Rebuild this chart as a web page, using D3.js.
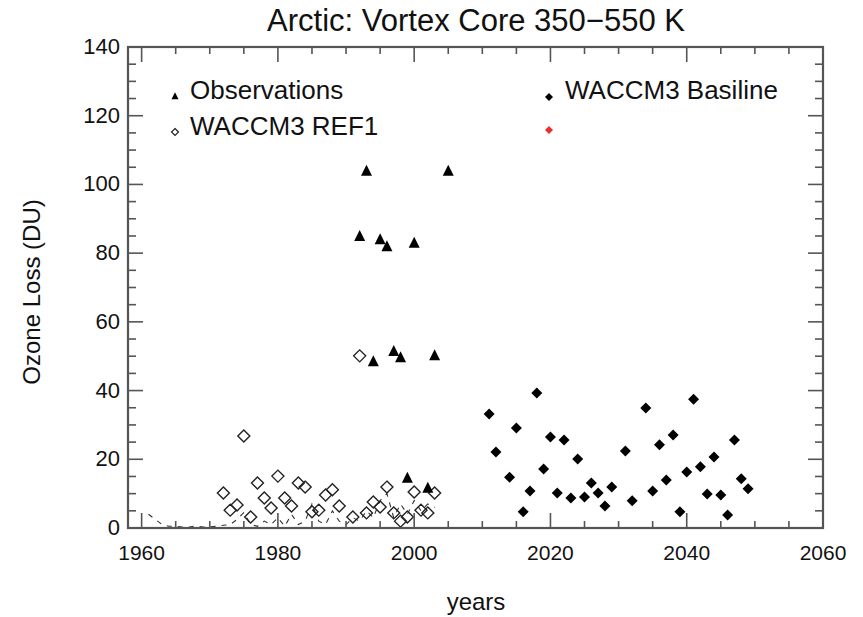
<!DOCTYPE html>
<html>
<head>
<meta charset="utf-8">
<script src="https://cdn.jsdelivr.net/npm/d3@7"></script>
<style>
  body { margin: 0; background: #fff; }
  text { font-family: "Liberation Sans", Arial, sans-serif; fill: #111; }
</style>
</head>
<body>
<div class="svg-container"></div>
<script>
// observations (triangles)
var obsYears = [1992, 1993, 1994, 1995, 1996, 1997, 1998, 1999, 2000, 2002, 2003, 2005];
var obsLoss  = [85, 104, 48.5, 84, 82, 51.5, 49.7, 14.6, 83, 11.7, 50.3, 104];

// WACCM3 REF1 (open diamonds)
var ref1Years = [1972, 1973, 1974, 1975, 1976, 1977, 1978, 1979, 1980, 1981, 1982, 1983, 1984, 1985,
                 1986, 1987, 1988, 1989, 1991, 1992, 1993, 1994, 1995, 1996, 1997, 1998, 1999, 2000,
                 2001, 2002, 2003];
var ref1Loss  = [10.2, 5.2, 6.7, 26.8, 3.2, 13.1, 8.7, 5.8, 15.1, 8.7, 6.4, 13.1, 11.9, 4.7,
                 5.2, 9.6, 11.1, 6.4, 3.2, 50.1, 4.4, 7.6, 6.1, 11.9, 4.4, 2.0, 3.2, 10.5,
                 5.2, 4.4, 10.2];

// WACCM3 basiline (filled diamonds)
var baseYears = [2011, 2012, 2014, 2015, 2016, 2017, 2018, 2019, 2020, 2021, 2022, 2023, 2024, 2025,
                 2026, 2027, 2028, 2029, 2031, 2032, 2034, 2035, 2036, 2037, 2038, 2039, 2040, 2041,
                 2042, 2043, 2044, 2045, 2046, 2047, 2048, 2049];
var baseLoss  = [33.2, 22.1, 14.8, 29.1, 4.7, 10.8, 39.3, 17.2, 26.5, 10.2, 25.6, 8.7, 20.1, 9.0,
                 13.1, 10.2, 6.4, 11.9, 22.4, 7.9, 34.9, 10.8, 24.2, 14.0, 27.1, 4.7, 16.3, 37.5,
                 17.8, 9.9, 20.7, 9.6, 3.8, 25.6, 14.3, 11.4];

// dashed model line near zero
var dashYears = [1961, 1962, 1963, 1964, 1965, 1966, 1967, 1968, 1969, 1970, 1971, 1972, 1973, 1974,
                 1975, 1976, 1977, 1978, 1979, 1980, 1981, 1982, 1983, 1984, 1985, 1986, 1987, 1988,
                 1989, 1990, 1991, 1992, 1993, 1994, 1995, 1996, 1997, 1998, 1999, 2000, 2001, 2002, 2003];
var dashLoss  = [4, 2.5, 1, 0.5, 0.5, 0.3, 0.3, 0.6, 0.3, 0.3, 0.5, 0.8, 1, 2.5,
                 4.5, 1, 0.5, 2, 1, 3, 0.5, 4, 1, 2, 7, 2, 1, 5,
                 2, 1, 3, 2, 5, 3, 8, 10, 3, 7, 4, 8, 5, 7, 6];

var xTicks = [1960, 1980, 2000, 2020, 2040, 2060];
var yTicks = [0, 20, 40, 60, 80, 100, 120, 140];

var legendLeft  = ["Observations", "WACCM3 REF1"];
var legendRight = ["WACCM3 Basiline", ""];

var ChartBuilder = (function() {
    var _svg = undefined;
    var _x = undefined;
    var _y = undefined;

    var plot = { left: 128, right: 823, top: 47, bottom: 528 };

    var _zip = function(xs, ys) {
      return xs.map(function(d, i) { return { year: d, loss: ys[i] }; });
    };

    var _drawAxes = function() {
      var minorX = d3.range(1960, 2061, 5);
      var minorY = d3.range(0, 141, 5);
      var frame = _svg.append("g").attr("class", "frame");

      //ticks on all four sides point inward
      var g = frame.append("g")
        .attr("stroke", "#555")
        .attr("stroke-width", 1.6);

      g.selectAll("line.xt")
        .data(minorX)
        .enter()
        .append("line")
          .attr("x1", function(d) { return _x(d); })
          .attr("x2", function(d) { return _x(d); })
          .attr("y1", plot.bottom)
          .attr("y2", function(d) { return plot.bottom - (xTicks.indexOf(d) >= 0 ? 15 : 7); });

      g.selectAll("line.xtt")
        .data(minorX)
        .enter()
        .append("line")
          .attr("x1", function(d) { return _x(d); })
          .attr("x2", function(d) { return _x(d); })
          .attr("y1", plot.top)
          .attr("y2", function(d) { return plot.top + (xTicks.indexOf(d) >= 0 ? 15 : 7); });

      g.selectAll("line.yt")
        .data(minorY)
        .enter()
        .append("line")
          .attr("y1", function(d) { return _y(d); })
          .attr("y2", function(d) { return _y(d); })
          .attr("x1", plot.left)
          .attr("x2", function(d) { return plot.left + (yTicks.indexOf(d) >= 0 ? 15 : 8); });

      g.selectAll("line.ytr")
        .data(minorY)
        .enter()
        .append("line")
          .attr("y1", function(d) { return _y(d); })
          .attr("y2", function(d) { return _y(d); })
          .attr("x1", plot.right)
          .attr("x2", function(d) { return plot.right - (yTicks.indexOf(d) >= 0 ? 15 : 8); });

      frame.append("rect")
        .attr("x", plot.left)
        .attr("y", plot.top)
        .attr("width", plot.right - plot.left)
        .attr("height", plot.bottom - plot.top)
        .attr("fill", "none")
        .attr("stroke", "#555")
        .attr("stroke-width", 2.2);

      //tick labels
      frame.selectAll("text.xl")
        .data(xTicks)
        .enter()
        .append("text")
          .attr("x", function(d) { return _x(d); })
          .attr("y", 560)
          .attr("text-anchor", "middle")
          .attr("font-size", "21px")
          .text(function(d) { return d; });

      frame.selectAll("text.yl")
        .data(yTicks)
        .enter()
        .append("text")
          .attr("x", 120)
          .attr("y", function(d) { return _y(d) + 7; })
          .attr("text-anchor", "end")
          .attr("font-size", "22px")
          .text(function(d) { return d; });
    };

    var _trianglePath = function(cx, cy, s) {
      return "M" + cx + "," + (cy - s * 0.55) + "L" + (cx + s / 2) + "," + (cy + s * 0.45) +
             "L" + (cx - s / 2) + "," + (cy + s * 0.45) + "Z";
    };

    var _diamondPath = function(cx, cy, r) {
      return "M" + cx + "," + (cy - r) + "L" + (cx + r) + "," + cy + "L" + cx + "," + (cy + r) +
             "L" + (cx - r) + "," + cy + "Z";
    };

    var _drawSeries = function() {
      var line = d3.line()
        .x(function(d) { return _x(d.year); })
        .y(function(d) { return _y(d.loss); });

      _svg.append("path")
        .datum(_zip(dashYears, dashLoss))
        .attr("d", line)
        .attr("fill", "none")
        .attr("stroke", "#333")
        .attr("stroke-width", 1.1)
        .attr("stroke-dasharray", "5,6");

      _svg.append("g").selectAll("path")
        .data(_zip(ref1Years, ref1Loss))
        .enter()
        .append("path")
          .attr("d", function(d) { return _diamondPath(_x(d.year), _y(d.loss), 6); })
          .attr("fill", "none")
          .attr("stroke", "#222")
          .attr("stroke-width", 1.4);

      _svg.append("g").selectAll("path")
        .data(_zip(obsYears, obsLoss))
        .enter()
        .append("path")
          .attr("d", function(d) { return _trianglePath(_x(d.year), _y(d.loss), 11); })
          .attr("fill", "#000");

      _svg.append("g").selectAll("path")
        .data(_zip(baseYears, baseLoss))
        .enter()
        .append("path")
          .attr("d", function(d) { return _diamondPath(_x(d.year), _y(d.loss), 5.5); })
          .attr("fill", "#000");
    };

    var _drawLegend = function() {
      var lg = _svg.append("g").attr("class", "legend");
      var baselines = [99, 135];

      lg.append("path").attr("d", _trianglePath(175, 96, 7)).attr("fill", "#000");
      lg.append("path").attr("d", _diamondPath(175, 132, 3.5))
        .attr("fill", "none").attr("stroke", "#222").attr("stroke-width", 1.2);
      lg.append("path").attr("d", _diamondPath(549, 97, 4)).attr("fill", "#000");
      lg.append("path").attr("d", _diamondPath(549, 130, 4)).attr("fill", "#e8302a");

      lg.selectAll("text.ll")
        .data(legendLeft)
        .enter()
        .append("text")
          .attr("x", 190)
          .attr("y", function(d, i) { return baselines[i]; })
          .attr("font-size", "26px")
          .text(function(d) { return d; });

      lg.selectAll("text.lr")
        .data(legendRight)
        .enter()
        .append("text")
          .attr("x", 565)
          .attr("y", function(d, i) { return baselines[i]; })
          .attr("font-size", "26px")
          .text(function(d) { return d; });
    };

    var init = function() {
      _svg = d3.select(".svg-container")
        .append("svg")
          .attr("width", 863)
          .attr("height", 617);

      _x = d3.scaleLinear().domain([1958, 2060]).range([plot.left, plot.right]);
      _y = d3.scaleLinear().domain([0, 140]).range([plot.bottom, plot.top]);

      _svg.append("text")
        .attr("x", 476)
        .attr("y", 31)
        .attr("text-anchor", "middle")
        .attr("font-size", "31px")
        .text("Arctic: Vortex Core 350\u2212550 K");

      _svg.append("text")
        .attr("transform", "translate(40, 292) rotate(-90)")
        .attr("text-anchor", "middle")
        .attr("font-size", "24px")
        .text("Ozone Loss (DU)");

      _svg.append("text")
        .attr("x", 476)
        .attr("y", 610)
        .attr("text-anchor", "middle")
        .attr("font-size", "24px")
        .text("years");

      _drawSeries();
      _drawAxes();
      _drawLegend();
    };

    return { init: init };
})();

ChartBuilder.init();
</script>
</body>
</html>
